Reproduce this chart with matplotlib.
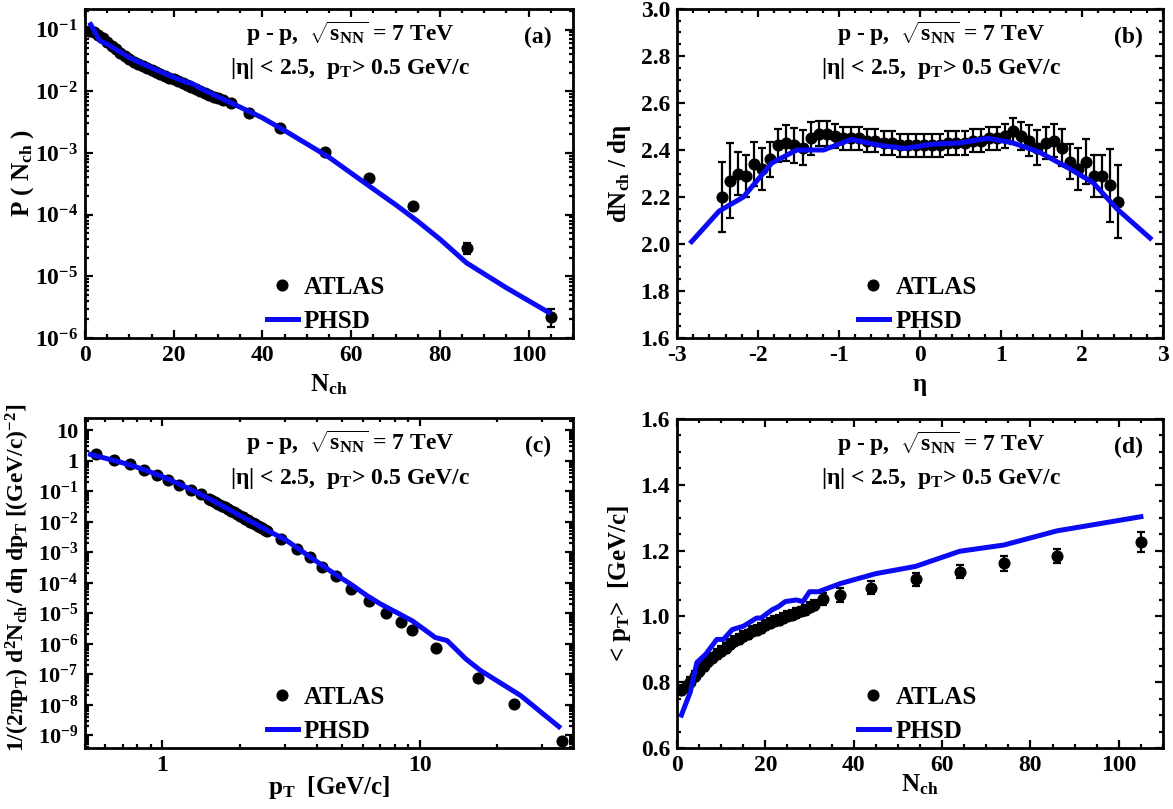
import matplotlib
matplotlib.use("Agg")
import matplotlib.pyplot as plt
from matplotlib.lines import Line2D
from matplotlib.ticker import MultipleLocator, LogLocator, NullFormatter, FuncFormatter, FixedLocator

plt.rcParams['font.family'] = ['Liberation Serif', 'DejaVu Serif']
plt.rcParams['font.weight'] = 'bold'
plt.rcParams['mathtext.fontset'] = 'custom'
plt.rcParams['mathtext.rm'] = 'Liberation Serif:bold'
plt.rcParams['mathtext.it'] = 'Liberation Serif:italic:bold'
plt.rcParams['mathtext.bf'] = 'Liberation Serif:bold'
plt.rcParams['mathtext.default'] = 'rm'

# ---------------- data (a) multiplicity distribution ----------------
a_nch = [1, 2, 3, 4, 5, 6, 7, 8, 9, 10, 11, 12, 13, 14, 15, 16, 17, 18, 19, 20,
         21, 22, 23, 24, 25, 26, 27, 28, 29, 30, 31, 33, 37, 44, 54, 64, 74, 86, 105]
a_p = [0.095, 0.091, 0.083, 0.073, 0.063, 0.055, 0.048, 0.042, 0.037, 0.033,
       0.030, 0.0275, 0.0255, 0.0236, 0.0220, 0.0205, 0.0191, 0.0178, 0.0166, 0.0155,
       0.0145, 0.0135, 0.0126, 0.0117, 0.0108, 0.0100, 0.0093, 0.0087, 0.0082, 0.0077,
       0.0071, 6.5e-3, 4.5e-3, 2.5e-3, 1.03e-3, 3.9e-4, 1.36e-4, 2.9e-5, 2.2e-6]
a_err = [0] * 31 + [2e-4, 1.5e-4, 8e-5, 4e-5, 2e-5, 1e-5, 6e-6, 7e-7]
a_phsd_n = [1.3, 3.3, 5, 8, 10, 12, 15, 20, 23, 24, 26, 28, 31, 35, 40, 45, 50, 55,
            60, 65, 70, 75, 80, 86, 95, 104.5]
a_phsd_p = [0.12, 0.066, 0.058, 0.043, 0.035, 0.030, 0.024, 0.0168, 0.0138, 0.0135,
            0.0112, 0.0095, 0.0075, 0.0055, 0.0037, 0.0023, 0.0014, 8.5e-4,
            4.7e-4, 2.6e-4, 1.45e-4, 7.8e-5, 4.0e-5, 1.65e-5, 6.5e-6, 2.6e-6]

# ---------------- data (b) pseudorapidity distribution ----------------
b_eta = [-2.45, -2.35, -2.25, -2.15, -2.05, -1.95, -1.85, -1.75, -1.65, -1.55,
         -1.45, -1.35, -1.25, -1.15, -1.05, -0.95, -0.85, -0.75, -0.65, -0.55,
         -0.45, -0.35, -0.25, -0.15, -0.05, 0.05, 0.15, 0.25, 0.35, 0.45,
         0.55, 0.65, 0.75, 0.85, 0.95, 1.05, 1.15, 1.25, 1.35, 1.45,
         1.55, 1.65, 1.75, 1.85, 1.95, 2.05, 2.15, 2.25, 2.35, 2.45]
b_dn = [2.20, 2.27, 2.30, 2.29, 2.34, 2.32, 2.36, 2.42, 2.43, 2.42,
        2.41, 2.45, 2.47, 2.47, 2.46, 2.45, 2.45, 2.45, 2.44, 2.44,
        2.43, 2.43, 2.42, 2.42, 2.42, 2.42, 2.42, 2.42, 2.43, 2.43,
        2.43, 2.44, 2.44, 2.45, 2.45, 2.46, 2.48, 2.46, 2.44, 2.41,
        2.43, 2.44, 2.41, 2.35, 2.32, 2.35, 2.29, 2.29, 2.25, 2.18]
b_err = [0.15, 0.16, 0.09, 0.09, 0.095, 0.09, 0.075, 0.07, 0.075, 0.075,
         0.075, 0.07, 0.055, 0.055, 0.05, 0.05, 0.05, 0.05, 0.05, 0.05,
         0.05, 0.05, 0.05, 0.05, 0.05, 0.05, 0.05, 0.05, 0.05, 0.05,
         0.05, 0.05, 0.05, 0.05, 0.05, 0.05, 0.055, 0.06, 0.065, 0.075,
         0.07, 0.07, 0.08, 0.075, 0.09, 0.095, 0.09, 0.09, 0.155, 0.155]
b_phsd_eta = [-2.82, -2.48, -2.18, -1.83, -1.52, -1.19, -0.85, -0.5, -0.19, 0.15,
              0.49, 0.84, 1.15, 1.48, 1.85, 2.14, 2.43, 2.84]
b_phsd_dn = [2.01, 2.14, 2.20, 2.345, 2.40, 2.40, 2.445, 2.42, 2.407, 2.425,
             2.43, 2.45, 2.43, 2.39, 2.32, 2.26, 2.15, 2.025]

# ---------------- data (c) pT spectrum ----------------
c_pt = [0.55, 0.65, 0.75, 0.85, 0.95, 1.05, 1.16, 1.29, 1.41, 1.52,
        1.55, 1.60, 1.65, 1.70, 1.75, 1.80, 1.85, 1.90, 1.95, 2.00,
        2.05, 2.10, 2.15, 2.20, 2.25, 2.30, 2.35, 2.40, 2.45, 2.50,
        2.56, 2.89, 3.33, 3.76, 4.19, 4.72, 5.41, 6.36, 7.38, 8.43,
        9.36, 11.6, 16.8, 23.3, 35.9]
c_y = [1.63, 1.04, 0.77, 0.49, 0.335, 0.23, 0.158, 0.107, 0.078, 0.057,
       0.052, 0.0448, 0.0388, 0.0337, 0.0294, 0.0258, 0.0226, 0.0200, 0.0177, 0.0157,
       0.0140, 0.0125, 0.0112, 0.0100, 0.0090, 0.0081, 0.0074, 0.0067, 0.0061, 0.0055,
       4.9e-3, 2.8e-3, 1.23e-3, 6.8e-4, 3.3e-4, 1.6e-4, 6.4e-5, 2.5e-5, 1.05e-5, 5.0e-6,
       2.9e-6, 7.0e-7, 7.4e-8, 1.07e-8, 6.5e-10]
c_phsd_pt = [0.525, 0.6, 0.7, 0.8, 0.9, 1.0, 1.2, 1.4, 1.6, 1.8, 2.0, 2.3, 2.6,
             3.0, 3.5, 4.0, 4.5, 5.0, 5.4, 6.26, 7.05, 8.43, 9.37, 10.5, 11.5,
             12.8, 15.1, 17.3, 24.7, 34.8]
c_phsd_y = [1.6, 1.2, 0.85, 0.60, 0.42, 0.30, 0.15, 0.080, 0.045, 0.026, 0.016,
            0.0085, 0.0048, 0.0026, 1.05e-3, 4.8e-4, 2.4e-4, 1.35e-4, 8.9e-5,
            3.7e-5, 2.0e-5, 9.0e-6, 5.6e-6, 2.8e-6, 1.6e-6, 1.26e-6, 3.2e-7,
            1.3e-7, 2.0e-8, 1.9e-9]

# ---------------- data (d) mean pT vs Nch ----------------
d_nch = [1, 2, 3, 4, 5, 6, 7, 8, 9, 10, 11, 12, 13, 14, 15, 16, 17, 18, 19, 20,
         21, 22, 23, 24, 25, 26, 27, 28, 29, 30, 31, 33, 37, 44, 54, 64, 74, 86, 105]
d_pt = [0.775, 0.785, 0.80, 0.82, 0.835, 0.85, 0.865, 0.875, 0.885, 0.895,
        0.905, 0.915, 0.925, 0.93, 0.94, 0.945, 0.955, 0.96, 0.965, 0.975,
        0.98, 0.985, 0.99, 0.995, 1.00, 1.005, 1.01, 1.015, 1.02, 1.03,
        1.035, 1.052, 1.065, 1.087, 1.113, 1.136, 1.161, 1.184, 1.227]
d_err = [0.015] * 31 + [0.018, 0.02, 0.02, 0.02, 0.02, 0.022, 0.022, 0.03]
d_phsd_n = [1, 3, 4.5, 6.5, 9, 10.5, 12.5, 15, 18, 19, 21.5, 23, 24.5, 27, 28.5,
            30, 32, 37, 45, 54, 64, 74, 86, 105]
d_phsd_pt = [0.70, 0.77, 0.86, 0.885, 0.93, 0.93, 0.96, 0.97, 0.995, 0.995, 1.02,
             1.03, 1.045, 1.05, 1.045, 1.075, 1.075, 1.10, 1.13, 1.152, 1.198,
             1.217, 1.26, 1.303]

labels_abcd = ["(a)", "(b)", "(c)", "(d)"]
line1 = r"p - p,  $\sqrt{s_{NN}}$ = 7 TeV"
line2 = r"|η| < 2.5,  p$_{T}$> 0.5 GeV/c"

BLUE = '#0a0af5'
TICK_FS = 17
LEG_FS = 18
LAB_FS = 18
ANN_FS = 17

fig = plt.figure(figsize=(11.73, 8.09), dpi=100)
W, H = 1173.0, 809.0


def add_ax(l, r, t, b):
    return fig.add_axes([l / W, 1 - b / H, (r - l) / W, (b - t) / H])


axa = add_ax(85, 573, 9, 338)
axb = add_ax(677, 1163, 9, 338)
axc = add_ax(85, 573, 418, 748)
axd = add_ax(677, 1163, 419, 748)


def style(ax):
    for s in ax.spines.values():
        s.set_linewidth(2.0)
    ax.tick_params(which='both', direction='in', top=True, right=True, width=1.6,
                   labelsize=TICK_FS, pad=5)
    ax.tick_params(which='major', length=6)
    ax.tick_params(which='minor', length=3)


def pow_fmt(v, pos):
    import math
    if v <= 0:
        return ""
    e = int(round(math.log10(v)))
    if e == 0:
        return "1"
    if e == 1:
        return "10"
    return r"$\mathrm{10^{%d}}$" % e


def decor(ax, lab):
    ax.text(0.543, 0.925, line1, transform=ax.transAxes, ha='center', va='center',
            fontsize=ANN_FS, fontweight='bold')
    ax.text(0.543, 0.818, line2, transform=ax.transAxes, ha='center', va='center',
            fontsize=ANN_FS, fontweight='bold')
    ax.text(0.928, 0.915, lab, transform=ax.transAxes, ha='center', va='center',
            fontsize=ANN_FS, fontweight='bold')
    h1 = Line2D([], [], ls='none', marker='o', color='black', ms=7.7)
    h2 = Line2D([], [], color=BLUE, lw=3.6)
    ax.legend([h1, h2], ["ATLAS", "PHSD"], loc='lower left',
              bbox_to_anchor=(0.372, 0.015), frameon=False, fontsize=LEG_FS,
              handlelength=1.25, handletextpad=0.25, labelspacing=0.45,
              borderpad=0, borderaxespad=0)


def pts(ax, x, y, e):
    ax.errorbar(x, y, yerr=e, fmt='o', color='black', ms=7.7, elinewidth=1.6,
                capsize=3, capthick=1.6, zorder=3)


# (a)
style(axa)
axa.set_yscale('log')
pts(axa, a_nch, a_p, a_err)
axa.plot(a_phsd_n, a_phsd_p, color=BLUE, lw=3.6, zorder=4)
axa.set_xlim(0, 110)
axa.set_ylim(1e-6, 0.215)
axa.xaxis.set_major_locator(MultipleLocator(20))
axa.xaxis.set_minor_locator(MultipleLocator(5))
axa.yaxis.set_major_locator(LogLocator(base=10, numticks=20))
axa.yaxis.set_minor_locator(LogLocator(base=10, subs=range(2, 10), numticks=20))
axa.yaxis.set_major_formatter(FuncFormatter(pow_fmt))
axa.yaxis.set_minor_formatter(NullFormatter())
axa.set_xlabel(r"N$_{ch}$", fontsize=LAB_FS, fontweight='bold')
axa.set_ylabel(r"P ( N$_{ch}$ )", fontsize=LAB_FS, fontweight='bold')
axa.xaxis.set_label_coords(0.5, -0.105)
axa.yaxis.set_label_coords(-0.10, 0.5)
decor(axa, labels_abcd[0])

# (b)
style(axb)
pts(axb, b_eta, b_dn, b_err)
axb.plot(b_phsd_eta, b_phsd_dn, color=BLUE, lw=3.6, zorder=4)
axb.set_xlim(-3, 3)
axb.set_ylim(1.6, 3.0)
axb.xaxis.set_major_locator(MultipleLocator(1))
axb.xaxis.set_minor_locator(MultipleLocator(0.2))
axb.yaxis.set_major_locator(MultipleLocator(0.2))
axb.yaxis.set_minor_locator(MultipleLocator(0.05))
axb.yaxis.set_major_formatter(FuncFormatter(lambda v, p: "%.1f" % v))
axb.xaxis.set_major_formatter(FuncFormatter(lambda v, p: "%d" % round(v)))
axb.set_xlabel("η", fontsize=LAB_FS, fontweight='bold')
axb.set_ylabel(r"dN$_{ch}$ / dη", fontsize=LAB_FS, fontweight='bold')
axb.xaxis.set_label_coords(0.5, -0.105)
axb.yaxis.set_label_coords(-0.09, 0.5)
decor(axb, labels_abcd[1])

# (c)
style(axc)
axc.set_xscale('log')
axc.set_yscale('log')
axc.plot(c_pt, c_y, 'o', color='black', ms=7.7, zorder=3)
axc.plot(c_phsd_pt, c_phsd_y, color=BLUE, lw=3.6, zorder=4)
axc.set_xlim(0.5, 39.5)
axc.set_ylim(3.8e-10, 25)
axc.xaxis.set_major_locator(FixedLocator([1, 10]))
axc.xaxis.set_minor_locator(LogLocator(base=10, subs=range(2, 10), numticks=20))
axc.xaxis.set_major_formatter(FuncFormatter(pow_fmt))
axc.xaxis.set_minor_formatter(NullFormatter())
axc.yaxis.set_major_locator(LogLocator(base=10, numticks=30))
axc.yaxis.set_minor_locator(LogLocator(base=10, subs=range(2, 10), numticks=30))
axc.yaxis.set_major_formatter(FuncFormatter(pow_fmt))
axc.yaxis.set_minor_formatter(NullFormatter())
axc.tick_params(axis='y', labelsize=16)
axc.set_xlabel(r"p$_{T}$  [GeV/c]", fontsize=LAB_FS, fontweight='bold')
axc.set_ylabel(r"1/(2$\pi$p$_{T}$) d$^{2}$N$_{ch}$/ dη dp$_{T}$ [(GeV/c)$^{-2}$]",
               fontsize=17, fontweight='bold')
axc.xaxis.set_label_coords(0.5, -0.08)
axc.yaxis.set_label_coords(-0.108, 0.515)
decor(axc, labels_abcd[2])

# (d)
style(axd)
pts(axd, d_nch, d_pt, d_err)
axd.plot(d_phsd_n, d_phsd_pt, color=BLUE, lw=3.6, zorder=4)
axd.set_xlim(0, 110)
axd.set_ylim(0.6, 1.6)
axd.xaxis.set_major_locator(MultipleLocator(20))
axd.xaxis.set_minor_locator(MultipleLocator(5))
axd.yaxis.set_major_locator(MultipleLocator(0.2))
axd.yaxis.set_minor_locator(MultipleLocator(0.05))
axd.yaxis.set_major_formatter(FuncFormatter(lambda v, p: "%.1f" % v))
axd.set_xlabel(r"N$_{ch}$", fontsize=LAB_FS, fontweight='bold')
axd.set_ylabel(r"< p$_{T}$>  [GeV/c]", fontsize=LAB_FS, fontweight='bold')
axd.xaxis.set_label_coords(0.5, -0.075)
axd.yaxis.set_label_coords(-0.09, 0.5)
decor(axd, labels_abcd[3])

fig.savefig("out.png", dpi=100)
